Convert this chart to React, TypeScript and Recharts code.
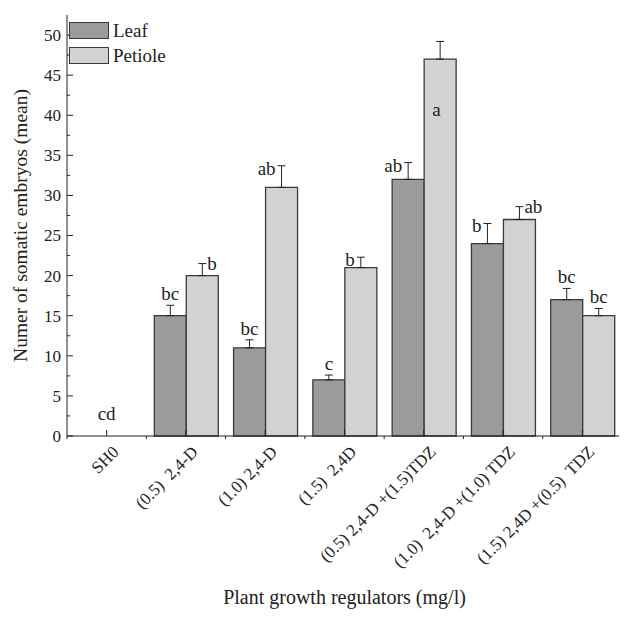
import React from "react";
import {
  Bar,
  BarChart,
  ErrorBar,
  LabelList,
  Legend,
  XAxis,
  YAxis,
} from "recharts";

const categories = [
  "SH0",
  "(0.5)  2,4-D",
  "(1.0) 2,4-D",
  "(1.5)  2,4D",
  "(0.5) 2,4-D +(1.5)TDZ",
  "(1.0)  2,4-D +(1.0) TDZ",
  "(1.5) 2,4D +(0.5)  TDZ",
];
const leafValues = [0, 15, 11, 7, 32, 24, 17];
const petioleValues = [0, 20, 31, 21, 47, 27, 15];
const leafErrors = [0, 1.3, 1.0, 0.6, 2.1, 2.5, 1.4];
const petioleErrors = [0, 1.5, 2.7, 1.3, 2.2, 1.6, 0.9];
const leafLetters = ["cd", "bc", "bc", "c", "ab", "b", "bc"];
const petioleLetters = ["", "b", "ab", "b", "a", "ab", "bc"];
const yTicks = [0, 2.5, 5, 7.5, 10, 12.5, 15, 17.5, 20, 22.5, 25, 27.5, 30, 32.5, 35, 37.5, 40, 42.5, 45, 47.5, 50];

// where each significance letter sits relative to its error bar
const leafPlace = ["group", "top", "top", "top", "left", "left", "top"];
const petiolePlace = ["", "right", "left", "left", "inside", "right", "top"];

const FONT = '"Liberation Serif", "Times New Roman", serif';
const W = 619;
const H = 610;
const MARGIN = { top: 7, right: 5, bottom: 12, left: 0 };
const Y_AXIS_W = 59;
const X_AXIS_H = 170;
const Y_MAX = 52.5;
const PLOT_H = H - MARGIN.top - MARGIN.bottom - X_AXIS_H;
const PLOT_W = W - MARGIN.left - MARGIN.right - Y_AXIS_W;
const PLOT_LEFT = MARGIN.left + Y_AXIS_W;
const PX = PLOT_H / Y_MAX;
const BAND = PLOT_W / categories.length;
const LEAF = "#9b9b9b";
const PETIOLE = "#d2d2d2";
const EDGE = "#3a3a3a";
const LETTER_SIZE = 19;

const data = categories.map((name, i) => ({
  name,
  leaf: leafValues[i],
  petiole: petioleValues[i],
  leafErr: [0, leafErrors[i]],
  petioleErr: [0, petioleErrors[i]],
}));

function YTickLeft(props: any) {
  const { x, y, payload } = props;
  const major = payload.value % 5 === 0;
  const ax = x + 4;
  return (
    <g>
      <line x1={ax} x2={ax + (major ? 6 : 3)} y1={y} y2={y} stroke="#222" />
      {major && (
        <text x={x - 2} y={y} dy="0.35em" textAnchor="end" fontFamily={FONT} fontSize={17} fill="#222">
          {payload.value}
        </text>
      )}
    </g>
  );
}

function YTickRight(props: any) {
  const { x, y, payload } = props;
  const major = payload.value % 5 === 0;
  return <line x1={x} x2={x - (major ? 6 : 3)} y1={y} y2={y} stroke="#222" />;
}

function XTickBottom(props: any) {
  const { x, y, payload, index } = props;
  const px = x + 13;
  const py = y + 17;
  // a category whose bars are both zero gets its letter centred on the group
  const empty = leafValues[index] === 0 && petioleValues[index] === 0 && leafPlace[index] === "group";
  return (
    <g>
      <line x1={x} x2={x} y1={y} y2={y - 6} stroke="#222" />
      <line x1={x - BAND / 2} x2={x - BAND / 2} y1={y} y2={y + 3} stroke="#222" />
      {empty && (
        <text x={x} y={y - 16} textAnchor="middle" fontFamily={FONT} fontSize={LETTER_SIZE} fill="#222">
          {leafLetters[index]}
        </text>
      )}
      <text
        x={px}
        y={py}
        textAnchor="end"
        transform={`rotate(-45 ${px} ${py})`}
        fontFamily={FONT}
        fontSize={17}
        fill="#222"
        style={{ whiteSpace: "pre" }}
      >
        {payload.value}
      </text>
    </g>
  );
}

function XTickTop(props: any) {
  const { x, y } = props;
  return (
    <g>
      <line x1={x} x2={x} y1={y} y2={y + 6} stroke="#222" />
      <line x1={x - BAND / 2} x2={x - BAND / 2} y1={y} y2={y - 3} stroke="#222" />
    </g>
  );
}

function makeLetter(letters: string[], errs: number[], place: string[]) {
  return (props: any) => {
    const { x, y, width } = props;
    const i = Math.floor((x - PLOT_LEFT) / BAND);
    const text = letters[i];
    if (!text) return null;
    const cx = x + width / 2;
    const capY = y - errs[i] * PX;
    const p = place[i];
    let tx = cx;
    let ty = capY - 5;
    let anchor: "start" | "middle" | "end" = "middle";
    if (p === "left") {
      tx = cx - 6;
      ty = capY + 9;
      anchor = "end";
    } else if (p === "right") {
      tx = cx + 5;
      ty = capY + 6;
      anchor = "start";
    } else if (p === "inside") {
      tx = cx - 8;
      ty = y + 57;
      anchor = "start";
    } else if (p === "group") {
      return null;
    }
    return (
      <text x={tx} y={ty} textAnchor={anchor} fontFamily={FONT} fontSize={LETTER_SIZE} fill="#222">
        {text}
      </text>
    );
  };
}

function YTitle(props: any) {
  const vb = props.viewBox || {};
  const cx = 12;
  const cy = vb.y + vb.height / 2;
  return (
    <text
      x={cx}
      y={cy}
      transform={`rotate(-90 ${cx} ${cy})`}
      textAnchor="middle"
      dominantBaseline="central"
      fontFamily={FONT}
      fontSize={19.5}
      fill="#222"
    >
      Numer of somatic embryos (mean)
    </text>
  );
}

function LegendBox(props: any) {
  const items = props.payload || [];
  return (
    <div style={{ fontFamily: FONT, fontSize: 19, color: "#222" }}>
      {items.map((it: any) => (
        <div key={it.value} style={{ display: "flex", alignItems: "center", height: 25 }}>
          <span
            style={{
              display: "inline-block",
              width: 38,
              height: 15,
              background: it.color,
              border: `1px solid ${EDGE}`,
              marginRight: 4,
            }}
          />
          {it.value}
        </div>
      ))}
    </div>
  );
}

export default function App() {
  return (
    <div style={{ width: W, height: H, background: "#fff" }}>
      <BarChart
        width={W}
        height={H}
        data={data}
        margin={MARGIN}
        barGap={0}
        barSize={32}
      >
        <XAxis
          dataKey="name"
          height={X_AXIS_H}
          interval={0}
          tickSize={0}
          tickMargin={0}
          tickLine={false}
          tick={<XTickBottom />}
          axisLine={{ stroke: "#222" }}
          label={{
            value: "Plant growth regulators (mg/l)",
            position: "insideBottom",
            offset: 2,
            style: { fontFamily: FONT, fontSize: 20, fill: "#222" },
          }}
        />
        <XAxis
          xAxisId="top"
          dataKey="name"
          orientation="top"
          height={0}
          interval={0}
          tickSize={0}
          tickMargin={0}
          tickLine={false}
          tick={<XTickTop />}
          axisLine={{ stroke: "#222" }}
        />
        <YAxis
          width={Y_AXIS_W}
          domain={[0, Y_MAX]}
          ticks={yTicks}
          interval={0}
          tickSize={0}
          tickMargin={4}
          tickLine={false}
          tick={<YTickLeft />}
          axisLine={{ stroke: "#222" }}
          label={{ content: <YTitle /> }}
        />
        <YAxis
          yAxisId="right"
          orientation="right"
          width={0}
          domain={[0, Y_MAX]}
          ticks={yTicks}
          interval={0}
          tickSize={0}
          tickMargin={0}
          tickLine={false}
          tick={<YTickRight />}
          axisLine={{ stroke: "#222" }}
        />
        <Legend
          layout="vertical"
          align="center"
          verticalAlign="middle"
          wrapperStyle={{ left: 61, top: 10, width: 120 }}
          content={<LegendBox />}
        />
        <Bar dataKey="leaf" name="Leaf" fill={LEAF} stroke={EDGE} strokeWidth={1.3} isAnimationActive={false}>
          <ErrorBar dataKey="leafErr" width={4} stroke="#222" strokeWidth={1} direction="y" />
          <LabelList dataKey="leaf" content={makeLetter(leafLetters, leafErrors, leafPlace)} />
        </Bar>
        <Bar dataKey="petiole" name="Petiole" fill={PETIOLE} stroke={EDGE} strokeWidth={1.3} isAnimationActive={false}>
          <ErrorBar dataKey="petioleErr" width={4} stroke="#222" strokeWidth={1} direction="y" />
          <LabelList dataKey="petiole" content={makeLetter(petioleLetters, petioleErrors, petiolePlace)} />
        </Bar>
      </BarChart>
    </div>
  );
}
